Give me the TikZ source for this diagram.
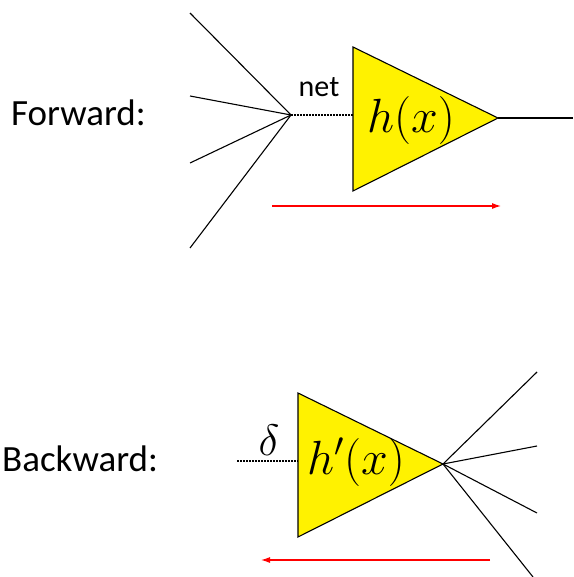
\RequirePackage{fix-cm}
\documentclass[tikz,border=0pt]{standalone}
\usepackage{fontspec}
\setmainfont{Carlito}
\usetikzlibrary{arrows.meta}
\tikzset{
  wire/.style={draw=black, line width=1.1pt},
  dots/.style={draw=black, line width=1.3pt, dash pattern=on 1.5pt off 1.5pt},
  neuron/.style={draw=black, line width=1.1pt, fill=yellow},
  flow/.style={draw=red, line width=1.1pt, -{Latex[length=9pt,width=6pt]}},
  lbl/.style={font=\fontsize{37}{40}\selectfont, inner sep=0pt},
  mathlbl/.style={font=\fontsize{48}{50}\selectfont, inner sep=0pt},
}
\begin{document}
\begin{tikzpicture}[x=1pt,y=-1pt]
\useasboundingbox (0,0) rectangle (573,577);
% ---------- Forward ----------
\node[lbl, anchor=west] (fwd) at (11,113) {Forward:};
\coordinate (j1) at (291,115);
\coordinate (i1) at (190,13);
\coordinate (i2) at (190,96);
\coordinate (i3) at (190,163);
\coordinate (i4) at (190,248);
\draw[wire] (i1) -- (j1);
\draw[wire] (i2) -- (j1);
\draw[wire] (i3) -- (j1);
\draw[wire] (i4) -- (j1);
\coordinate (t1a) at (353,47);
\coordinate (t1b) at (353,191);
\coordinate (t1c) at (498,118);
\coordinate (t1in) at (353,115);
\draw[dots] (j1) -- (t1in);
\draw[neuron] (t1a) -- (t1c) -- (t1b) -- cycle;
\coordinate (out1) at (573,118);
\draw[wire] (t1c) -- (out1);
\node[inner sep=0pt, font=\fontsize{30}{32}\selectfont] (net) at (319,87) {net};
\node[mathlbl] (hx) at (411,121) {$h(x)$};
\coordinate (fa) at (272,206);
\coordinate (fb) at (501,206);
\draw[flow] (fa) -- (fb);
% ---------- Backward ----------
\node[lbl, anchor=west] (bwd) at (2,459) {Backward:};
\coordinate (t2a) at (298,393);
\coordinate (t2b) at (298,537);
\coordinate (t2c) at (443,464);
\coordinate (t2in) at (298,461);
\coordinate (d0) at (237,461);
\draw[dots] (d0) -- (t2in);
\draw[neuron] (t2a) -- (t2c) -- (t2b) -- cycle;
\coordinate (o1) at (537,372);
\coordinate (o2) at (537,446);
\coordinate (o3) at (537,513);
\coordinate (o4) at (533,577);
\draw[wire] (t2c) -- (o1);
\draw[wire] (t2c) -- (o2);
\draw[wire] (t2c) -- (o3);
\draw[wire] (t2c) -- (o4);
\node[inner sep=0pt, font=\fontsize{44}{46}\selectfont] (delta) at (269,440) {$\delta$};
\node[mathlbl] (hpx) at (356,462) {$h'(x)$};
\coordinate (ba) at (490,560);
\coordinate (bb) at (261,560);
\draw[flow] (ba) -- (bb);
\end{tikzpicture}
\end{document}
